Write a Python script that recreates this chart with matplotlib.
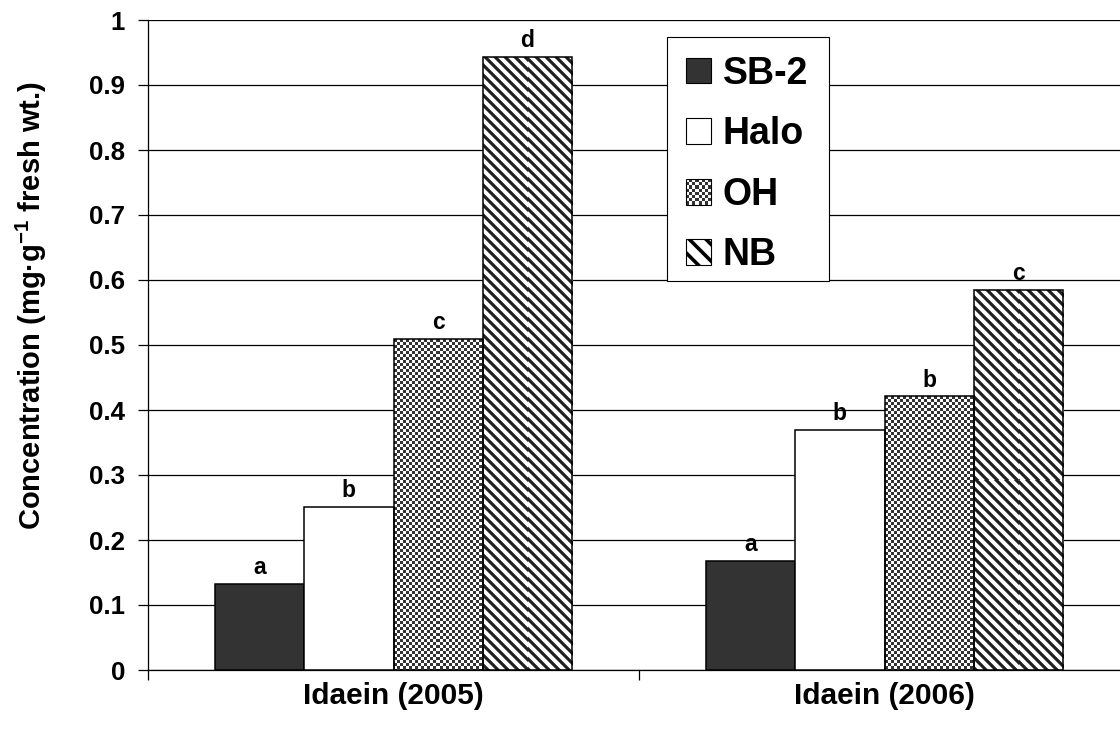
import numpy as np
import matplotlib
matplotlib.use("Agg")
import matplotlib.pyplot as plt
from matplotlib.patches import Rectangle
from matplotlib.legend_handler import HandlerBase

plt.rcParams['font.family'] = ['Liberation Sans', 'DejaVu Sans']
plt.rcParams['font.weight'] = 'bold'
plt.rcParams['mathtext.fontset'] = 'custom'
plt.rcParams['mathtext.rm'] = 'Liberation Sans:bold'
plt.rcParams['mathtext.default'] = 'rm'
plt.rcParams['hatch.linewidth'] = 2.6

# data
groups = ['Idaein (2005)', 'Idaein (2006)']
cultivars = ['SB-2', 'Halo', 'OH', 'NB']
values = {
    'SB-2': [0.132, 0.168],
    'Halo': [0.251, 0.369],
    'OH':   [0.509, 0.421],
    'NB':   [0.943, 0.585],
}
letters = {
    'SB-2': ['a', 'a'],
    'Halo': ['b', 'b'],
    'OH':   ['c', 'b'],
    'NB':   ['d', 'c'],
}
fills = {'SB-2': 'solid', 'Halo': 'white', 'OH': 'checker', 'NB': 'stripes'}

DARK = '#333333'
W, H, DPI = 1120, 736, 100


def checker_tile(h, w, cell=3):
    r, c = np.mgrid[0:h, 0:w]
    v = ((r // cell + c // cell) % 2).astype(float)
    return 0.2 + 0.8 * v


def stripe_tile(h, w, period=10.0, dark=0.45, ss=4):
    r, c = np.mgrid[0:h * ss, 0:w * ss] / ss
    phase = ((c - r) % period) / period
    v = (phase >= dark).astype(float)
    v = v.reshape(h, ss, w, ss).mean(axis=(1, 3))
    return 0.13 + 0.87 * v


fig = plt.figure(figsize=(W / DPI, H / DPI), dpi=DPI)
ax = fig.add_axes([148 / W, 1 - 670 / H, 982 / W, 650 / H])
ax.set_xlim(-0.5, 1.5)
ax.set_ylim(0, 1)

x = np.arange(len(groups))
width = 1 / 5.5
for i, name in enumerate(cultivars):
    pos = x + (i - 1.5) * width
    kind = fills[name]
    face = {'solid': DARK, 'white': 'white'}.get(kind, 'none')
    bars = ax.bar(pos, values[name], width, color=face, edgecolor='black',
                  linewidth=1.1, zorder=3)
    for b, lab in zip(bars, letters[name]):
        ax.annotate(lab, (b.get_x() + b.get_width() / 2, b.get_height()),
                    xytext=(0, 7), textcoords='offset points',
                    ha='center', va='baseline', fontsize=16.5, fontweight='bold')
        if kind in ('checker', 'stripes'):
            x0, y0 = ax.transData.transform((b.get_x(), 0))
            x1, y1 = ax.transData.transform((b.get_x() + b.get_width(), b.get_height()))
            pw, ph = int(round(x1 - x0)), int(round(y1 - y0))
            tile = checker_tile(ph, pw) if kind == 'checker' else stripe_tile(ph, pw)
            im = ax.imshow(tile, cmap='gray', vmin=0, vmax=1, interpolation='nearest',
                           extent=(b.get_x(), b.get_x() + b.get_width(), 0, b.get_height()),
                           aspect='auto', zorder=2)
            im.set_clip_path(b)

ax.set_xlim(-0.5, 1.5)
ax.set_ylim(0, 1)

# axes styling
ax.set_yticks(np.arange(0, 1.01, 0.1))
ax.set_yticklabels(['0'] + ['%.1f' % v for v in np.arange(0.1, 0.95, 0.1)] + ['1'])
ax.yaxis.grid(True, color='black', linewidth=0.9)
ax.set_axisbelow(True)
ax.set_xticks(x)
ax.set_xticklabels(groups)
ax.set_xticks([-0.5, 0.5, 1.5], minor=True)
ax.tick_params(axis='x', which='major', length=0, pad=9, labelsize=21.5)
ax.tick_params(axis='x', which='minor', length=7.5, width=0.9, direction='out')
ax.tick_params(axis='y', length=7.5, width=0.9, direction='out', pad=9, labelsize=18.6)
for side in ('top', 'right'):
    ax.spines[side].set_visible(False)
for side in ('left', 'bottom'):
    ax.spines[side].set_linewidth(0.9)

fig.text(31 / W, 1 - 306 / H, 'Concentration (mg·g$^{-1}$ fresh wt.)',
         rotation=90, ha='center', va='center', fontsize=21, fontweight='bold')


class TextureHandler(HandlerBase):
    def __init__(self, kind):
        super().__init__()
        self.kind = kind

    def legend_artist(self, legend, orig_handle, fontsize, handlebox):
        x0, y0 = -handlebox.xdescent, -handlebox.ydescent
        w, h = handlebox.width, handlebox.height
        if self.kind == 'checker':
            n = 8
            cw, chh = w / n, h / n
            base = Rectangle((x0, y0), w, h, facecolor='white', edgecolor='none')
            handlebox.add_artist(base)
            for r in range(n):
                for c in range(n):
                    if (r + c) % 2 == 0:
                        handlebox.add_artist(Rectangle((x0 + c * cw, y0 + r * chh), cw, chh,
                                                       facecolor=DARK, edgecolor='none'))
            frame = Rectangle((x0, y0), w, h, facecolor='none', edgecolor='black', linewidth=0.8)
        elif self.kind == 'stripes':
            frame = Rectangle((x0, y0), w, h, facecolor='white', edgecolor='black',
                              linewidth=0.8, hatch='\\\\')
        else:
            fc = DARK if self.kind == 'solid' else 'white'
            frame = Rectangle((x0, y0), w, h, facecolor=fc, edgecolor='black', linewidth=0.8)
        handlebox.add_artist(frame)
        return frame


# legend box drawn separately so its height can be set directly
box = Rectangle((667 / W, 1 - 281 / H), 162 / W, 244 / H, transform=fig.transFigure,
                facecolor='white', edgecolor='black', linewidth=0.8, clip_on=False, zorder=4)
ax.add_patch(box)

handles = [Rectangle((0, 0), 1, 1) for _ in cultivars]
leg = ax.legend(handles, cultivars,
                handler_map={h: TextureHandler(fills[n]) for h, n in zip(handles, cultivars)},
                loc='upper left', bbox_to_anchor=(667 / W, 1 - 37 / H),
                bbox_transform=fig.transFigure, borderaxespad=0,
                prop={'size': 27, 'weight': 'bold'}, frameon=False,
                handlelength=0.68, handleheight=0.68,
                handletextpad=0.3, labelspacing=0.655, borderpad=0.5)
leg.set_zorder(5)

fig.savefig('out.png', dpi=DPI)
